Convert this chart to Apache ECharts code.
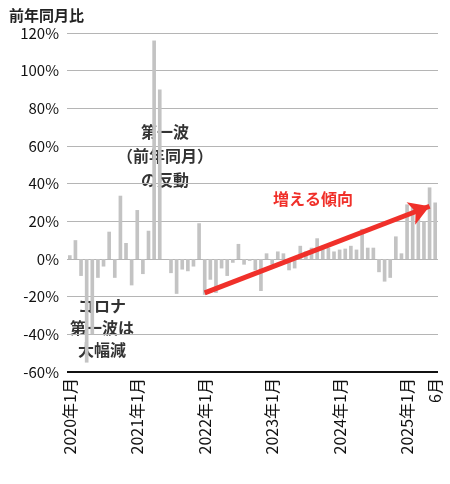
<!DOCTYPE html>
<html><head><meta charset="utf-8">
<script src="https://cdn.jsdelivr.net/npm/echarts@6/dist/echarts.min.js"></script>
<style>html,body{margin:0;padding:0;background:#fff}#c{width:450px;height:484px}</style>
</head><body><div id="c"></div>
<script>
const years = [2020, 2021, 2022, 2023, 2024, 2025];
const lastMonth = 6;
const values = [
 2,10,-9,-55,-40,-10,-4,14.5,-10,33.6,8.5,-14,
 26,-8,15,116,90,0,-7.5,-18.5,-5.6,-6.5,-4,19,
 -19,-11,-18,-5,-9,-2,8,-3,-1,-6,-17,3,
 -3,4,3,-6,-5,7,4,6,11,7,6,4,
 5,5.5,7,5,16,6,6,-7,-12,-10,12,3,
 29,28.5,28,20,38,30
];
const yTicks = [-60,-40,-20,0,20,40,60,80,100,120];
const categories = [];
years.forEach(y => { const n = y === 2025 ? lastMonth : 12; for (let m = 1; m <= n; m++) categories.push(y + '年' + m + '月'); });
const font = '"Noto Sans CJK JP","Noto Sans",sans-serif';
const chart = echarts.init(document.getElementById('c'));
chart.setOption({
  animation: false,
  textStyle: { fontFamily: font },
  grid: { left: 67, right: 12, top: 33, bottom: 112 },
  title: { text: '前年同月比', left: 4, top: 3, textStyle: { fontSize: 15, fontWeight: 'bold', color: '#222', fontFamily: font } },
  xAxis: {
    type: 'category', data: categories,
    axisLine: { show: false }, axisTick: { show: false },
    axisLabel: {
      rotate: 90, fontSize: 16, color: '#111', margin: 6,
      interval: (i, v) => v.endsWith('年1月') || i === categories.length - 1,
      formatter: (v, i) => i === categories.length - 1 ? (lastMonth + '月') : v
    }
  },
  yAxis: {
    type: 'value', min: -60, max: 120, interval: 20,
    axisLine: { show: false }, axisTick: { show: false },
    axisLabel: { fontSize: 15, color: '#111', formatter: v => yTicks.includes(v) ? v + '%' : '' },
    splitLine: { lineStyle: { color: '#b5b5b5', width: 1 } }
  },
  series: [{
    type: 'bar', data: values, barCategoryGap: '35%',
    itemStyle: { color: '#c3c3c3' },
    markLine: {
      silent: true, symbol: ['none', 'none'], label: { show: false },
      lineStyle: { color: '#111', width: 2, type: 'solid' },
      data: [{ yAxis: -60 }]
    }
  }, {
    type: 'line', data: [],
    markLine: {
      silent: true, symbol: ['none', 'arrow'], symbolSize: [18, 20], label: { show: false },
      lineStyle: { color: '#f0302a', width: 5, type: 'solid' },
      data: [[{ coord: ['2022年1月', -18] }, { coord: ['2025年5月', 28] }]]
    }
  }],
  graphic: [
    { type: 'text', x: 165, y: 120, style: { text: '第一波\n（前年同月）\nの反動', font: 'bold 16px ' + font, fill: '#333', align: 'center', verticalAlign: 'top', lineHeight: 24 } },
    { type: 'text', x: 102, y: 295, style: { text: 'コロナ\n第一波は\n大幅減', font: 'bold 16px ' + font, fill: '#333', align: 'center', verticalAlign: 'top', lineHeight: 22 } },
    { type: 'text', x: 273, y: 191, style: { text: '増える傾向', font: 'bold 16px ' + font, fill: '#f0302a', verticalAlign: 'top' } }
  ]
});
</script></body></html>
